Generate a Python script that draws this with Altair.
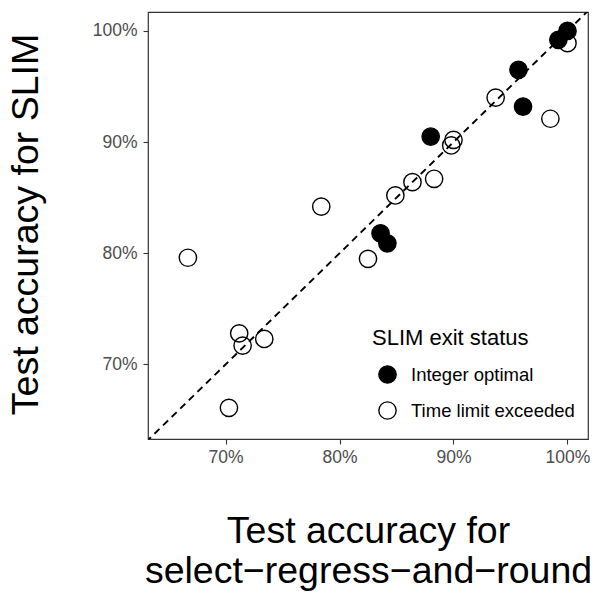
import altair as alt
import pandas as pd

# Test accuracy (fractions) for the two methods, one entry per data set
srr_integer = [1.000, 0.992, 0.957, 0.961, 0.880, 0.836, 0.842]
slim_integer = [1.000, 0.992, 0.965, 0.932, 0.905, 0.818, 0.809]

srr_timeout = [1.000, 0.937, 0.985, 0.900, 0.898, 0.883, 0.864, 0.849,
               0.784, 0.667, 0.825, 0.712, 0.715, 0.734, 0.703]
slim_timeout = [0.989, 0.940, 0.921, 0.902, 0.897, 0.867, 0.864, 0.852,
                0.842, 0.796, 0.795, 0.728, 0.717, 0.723, 0.661]

status_labels = ["Integer optimal", "Time limit exceeded"]
tick_values = [0.7, 0.8, 0.9, 1.0]

points = pd.DataFrame({
    "srr": srr_integer + srr_timeout,
    "slim": slim_integer + slim_timeout,
    "status": [status_labels[0]] * len(srr_integer) + [status_labels[1]] * len(srr_timeout),
})
diagonal = pd.DataFrame({"srr": [0.60, 1.05], "slim": [0.60, 1.05]})

x_scale = alt.Scale(domain=[0.632, 1.018], nice=False, zero=False)
y_scale = alt.Scale(domain=[0.633, 1.017], nice=False, zero=False)

x_axis = alt.Axis(
    values=tick_values, format=".0%",
    title=["Test accuracy for", "select\u2212regress\u2212and\u2212round"],
    titleX=220, titleY=103, titleAlign="center", titleBaseline="alphabetic",
    titleLineHeight=40, labelPadding=4,
)
y_axis = alt.Axis(
    values=tick_values, format=".0%", title="Test accuracy for SLIM",
    titleX=-111, titleY=212, titleAlign="center", titleBaseline="alphabetic",
    titleAngle=270, labelPadding=6,
)

line = alt.Chart(diagonal).mark_line(
    color="black", strokeDash=[7, 5], strokeWidth=1.9, clip=True
).encode(
    x=alt.X("srr:Q", scale=x_scale, axis=x_axis),
    y=alt.Y("slim:Q", scale=y_scale, axis=y_axis),
)

dots = alt.Chart(points).mark_point(
    shape="circle", size=300, stroke="black", strokeWidth=1.4, opacity=1
).encode(
    x=alt.X("srr:Q", scale=x_scale, axis=x_axis),
    y=alt.Y("slim:Q", scale=y_scale, axis=y_axis),
    fill=alt.Fill(
        "status:N",
        scale=alt.Scale(domain=status_labels, range=["black", "transparent"]),
        legend=alt.Legend(title="SLIM exit status"),
    ),
)

chart = alt.layer(line, dots).properties(
    width=440, height=427,
    autosize=alt.AutoSizeParams(type="none"),
    padding={"left": 148, "top": 12, "right": 12, "bottom": 161},
).configure(
    font="Liberation Sans",
).configure_view(
    stroke="#333333", strokeWidth=1.2,
).configure_axis(
    domain=False, grid=False,
    tickColor="#333333", tickSize=5, tickWidth=1.1,
    labelColor="#4D4D4D", labelFontSize=17.5, labelFont="Liberation Sans",
    titleColor="black", titleFontSize=37.5, titleFontWeight="normal",
    titleFont="Liberation Sans",
).configure_legend(
    orient="none", legendX=224, legendY=316,
    titleFontSize=22, titleFontWeight="normal", titleColor="black",
    titleFont="Liberation Sans", titlePadding=15,
    labelFontSize=18.5, labelColor="black", labelFont="Liberation Sans",
    labelLimit=0, labelOffset=14, symbolOffset=6, rowPadding=13,
    symbolType="circle", symbolSize=300, symbolStrokeWidth=1.4,
    symbolStrokeColor="black",
)

chart.save("out.html", embed_options={"renderer": "svg", "actions": False})
